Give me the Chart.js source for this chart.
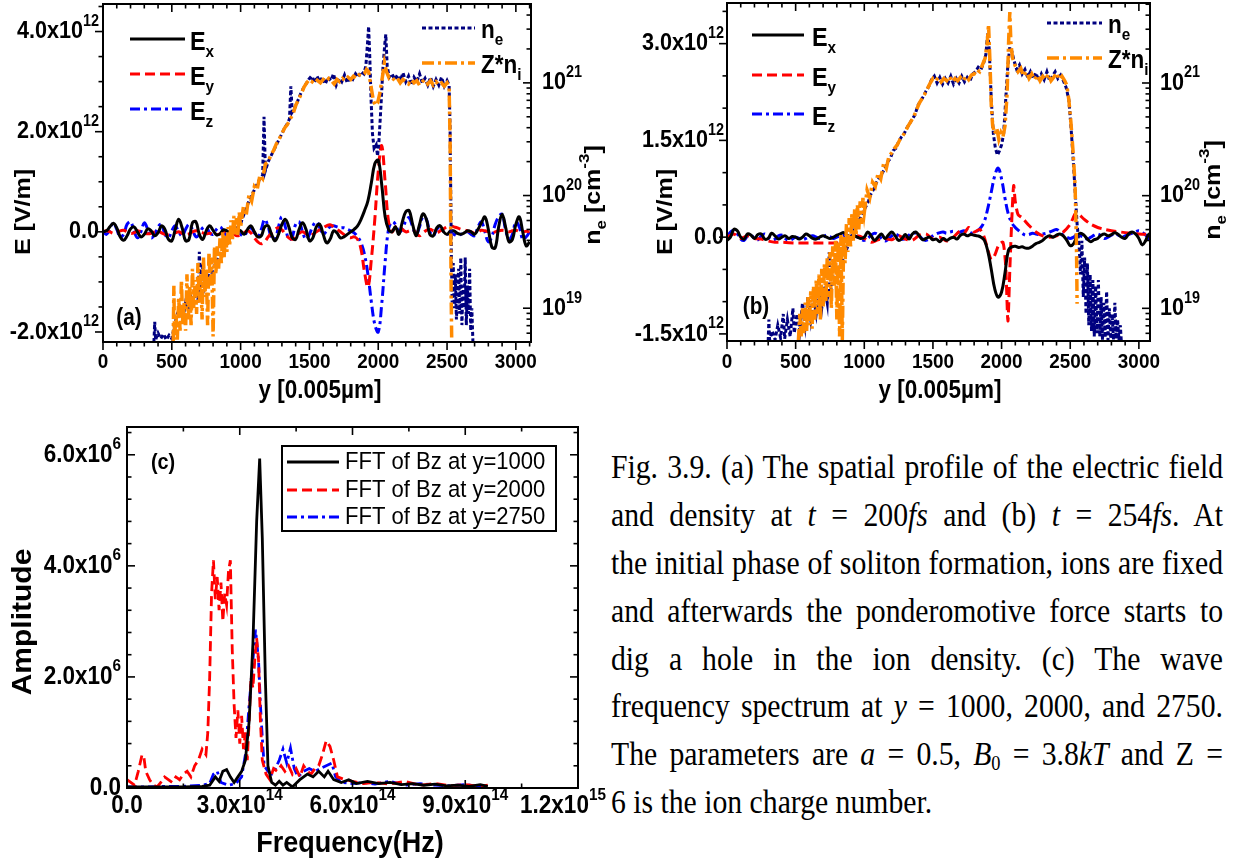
<!DOCTYPE html>
<html>
<head>
<meta charset="utf-8">
<script src="https://cdn.jsdelivr.net/npm/chart.js@4.4.1/dist/chart.umd.min.js"></script>
<style>
  body { margin: 0; background: #fff; width: 1233px; height: 866px; position: relative; overflow: hidden; }
  canvas { position: absolute; }
  #caption { position: absolute; left: 611px; top: 444px; width: 680px; color: #000;
             transform: scaleX(0.9); transform-origin: 0 0;
             font-family: "Liberation Serif", "Times New Roman", serif; font-size: 33px; }
  #caption .ln { height: 47.9px; line-height: 47.9px; white-space: nowrap;
                 text-align: justify; text-align-last: justify; }
  #caption .ln.end { text-align-last: left; }
  #caption sub { font-size: 0.62em; line-height: 0; vertical-align: -0.22em; }
</style>
</head>
<body>
<canvas id="chartA" width="620" height="410" style="left:0;top:0"></canvas>
<canvas id="chartB" width="613" height="410" style="left:620px;top:0"></canvas>
<canvas id="chartC" width="610" height="446" style="left:0;top:420px"></canvas>
<div id="caption">
  <div class="ln">Fig. 3.9. (a) The spatial profile of the electric field</div>
  <div class="ln">and density at <i>t</i> = 200<i>fs</i> and (b) <i>t</i> = 254<i>fs</i>. At</div>
  <div class="ln">the initial phase of soliton formation, ions are fixed</div>
  <div class="ln">and afterwards the ponderomotive force starts to</div>
  <div class="ln">dig a hole in the ion density. (c) The wave</div>
  <div class="ln">frequency spectrum at <i>y</i> = 1000, 2000, and 2750.</div>
  <div class="ln">The parameters are <i>a</i> = 0.5, <i>B</i><sub>0</sub> = 3.8<i>kT</i> and Z =</div>
  <div class="ln end">6 is the ion charge number.</div>
</div>
<script>
// sample positions along y [0.005 um] for the field curves
const yGrid = [
  0,25,50,75,100,125,150,175,
  200,225,250,275,300,325,350,375,
  400,425,450,475,500,525,550,575,
  600,625,650,675,700,725,750,775,
  800,825,850,875,900,925,950,975,
  1000,1025,1050,1075,1100,1125,1150,1175,
  1200,1225,1250,1275,1300,1325,1350,1375,
  1400,1425,1450,1475,1500,1525,1550,1575,
  1600,1625,1650,1675,1700,1725,1750,1775,
  1800,1825,1850,1875,1900,1925,1950,1975,
  2000,2025,2050,2075,2100,2125,2150,2175,
  2200,2225,2250,2275,2300,2325,2350,2375,
  2400,2425,2450,2475,2500,2525,2550,2575,
  2600,2625,2650,2675,2700,2725,2750,2775,
  2800,2825,2850,2875,2900,2925,2950,2975,
  3000,3025,3050,3075,3100
];

// (a) t = 200 fs, fields in units of 1e12 V/m
const exA = [
  0.00,0.02,0.10,0.17,0.08,-0.10,-0.17,-0.08,
  0.06,0.10,0.00,-0.10,-0.05,0.06,0.02,-0.08,
  -0.02,0.12,0.05,-0.15,-0.18,0.05,0.25,0.08,
  -0.18,-0.15,0.18,0.20,-0.05,-0.15,0.02,0.12,
  0.03,-0.06,-0.04,0.04,0.02,-0.02,0.00,0.05,
  0.02,-0.05,0.05,0.12,0.00,-0.10,-0.08,0.10,
  0.12,-0.05,-0.18,-0.05,0.15,0.25,0.10,-0.12,
  -0.15,0.05,0.18,0.05,-0.18,-0.12,0.10,0.15,
  -0.05,-0.22,-0.15,0.02,-0.02,-0.12,-0.10,-0.05,
  0.00,0.05,0.12,0.25,0.42,0.62,0.98,1.36,
  1.43,0.95,0.30,0.05,0.00,0.10,-0.05,0.20,
  0.40,0.42,0.15,-0.08,0.15,0.36,0.25,-0.05,
  -0.08,0.08,0.12,0.00,-0.05,0.02,0.02,-0.03,
  -0.05,-0.02,0.02,0.00,-0.05,0.05,0.18,0.30,
  0.05,-0.30,-0.32,0.10,0.35,0.10,-0.20,-0.15,
  0.15,0.30,0.00,-0.28,-0.20
];
const eyA = [
  0.00,0.02,0.00,-0.03,-0.02,0.02,0.03,0.00,
  -0.03,-0.02,0.02,0.00,-0.02,-0.04,-0.03,0.00,
  0.02,-0.02,-0.05,-0.06,-0.04,-0.02,0.00,-0.03,
  -0.05,-0.04,0.00,0.02,0.00,-0.02,-0.04,-0.03,
  -0.05,-0.06,-0.04,0.00,0.02,0.00,-0.04,-0.08,
  -0.06,-0.02,0.02,-0.02,-0.12,-0.20,-0.24,-0.20,
  -0.10,-0.02,0.05,0.08,0.04,-0.05,-0.12,-0.15,
  -0.10,-0.03,0.00,-0.04,-0.08,-0.05,0.00,0.04,
  0.08,0.12,0.14,0.10,0.05,0.00,-0.05,-0.10,
  -0.12,-0.10,-0.15,-0.35,-0.80,-1.10,-0.55,0.25,
  1.20,1.72,1.00,0.20,0.00,0.10,0.12,0.05,
  0.00,0.02,0.05,-0.03,-0.08,-0.02,0.03,0.05,
  0.02,-0.02,0.02,0.06,0.10,0.12,0.10,0.08,
  0.05,0.04,0.02,0.00,-0.03,0.00,0.03,0.02,
  0.00,-0.02,0.00,0.02,0.03,0.02,0.00,0.02,
  0.03,0.01,0.00,0.01,0.00
];
const ezA = [
  0.00,-0.05,0.05,0.18,0.05,-0.10,-0.05,0.15,
  0.20,0.02,-0.12,0.00,0.18,0.05,-0.12,-0.05,
  0.10,0.15,-0.05,-0.12,0.02,0.12,0.00,-0.08,
  0.05,0.15,0.05,-0.10,-0.05,0.08,0.10,-0.02,
  -0.05,0.05,0.10,0.02,-0.08,-0.02,0.05,0.02,
  -0.05,-0.08,0.02,0.08,-0.02,-0.10,0.05,0.25,
  0.10,-0.12,-0.15,0.10,0.30,0.10,-0.15,-0.10,
  0.15,0.20,0.00,-0.15,-0.05,0.12,0.20,0.08,
  -0.05,0.02,0.10,0.12,0.10,0.08,0.08,0.05,
  0.02,-0.02,-0.10,-0.22,-0.45,-0.85,-1.40,-1.85,
  -2.00,-1.45,-0.60,0.05,0.20,0.15,0.00,0.05,
  0.22,0.28,0.10,-0.05,0.10,0.30,0.25,0.00,
  -0.08,0.05,0.10,0.00,-0.05,-0.02,-0.05,-0.08,
  -0.05,-0.02,0.00,-0.05,-0.08,0.10,0.20,0.00,
  -0.20,-0.10,0.15,0.30,0.35,0.05,-0.15,-0.05,
  0.20,0.10,-0.15,-0.10,0.00
];
// (a) densities, log10 of n [cm^-3]
const neXA = [
  370,376,382,400,420,440,460,480,500,520,
  540,560,580,600,620,640,660,680,690,700,
  710,720,740,760,780,800,820,840,860,880,
  900,920,940,960,980,1000,1020,1040,1060,1080,
  1100,1120,1140,1160,1170,1180,1200,1220,1240,1260,
  1280,1300,1320,1340,1355,1365,1375,1395,1415,1435,
  1455,1475,1495,1515,1535,1555,1575,1595,1615,1635,
  1655,1675,1695,1715,1735,1755,1775,1795,1815,1835,
  1855,1875,1895,1910,1922,1930,1938,1948,1958,1970,
  1985,1995,2005,2020,2035,2048,2055,2065,2080,2100,
  2120,2140,2160,2180,2200,2220,2240,2260,2280,2300,
  2320,2340,2360,2380,2400,2420,2440,2460,2480,2500,
  2515,2522,2527,2532,2537,2545,2552,2560,2568,2576,
  2584,2592,2600,2608,2616,2624,2632,2640,2648,2656,
  2664,2672,2680,2688
];
const neLogA = [
  18.70,18.88,18.72,18.78,18.73,18.77,18.72,18.76,18.73,18.85,
  18.95,19.00,18.90,19.05,19.00,19.10,19.05,19.20,19.05,19.50,
  19.15,19.40,19.20,19.30,19.28,19.35,19.40,19.45,19.50,19.55,
  19.58,19.62,19.65,19.70,19.72,19.75,19.82,19.88,19.95,20.00,
  20.05,20.10,20.15,20.18,20.70,20.22,20.30,20.35,20.40,20.45,
  20.50,20.55,20.60,20.64,20.68,20.97,20.74,20.78,20.84,20.90,
  20.95,20.99,21.03,21.06,21.00,21.06,21.01,21.05,20.99,21.05,
  21.02,21.08,20.98,21.04,21.01,21.07,21.00,21.05,21.03,21.08,
  21.05,21.10,21.08,21.15,21.35,21.50,21.25,20.85,20.55,20.42,
  20.45,20.35,20.48,20.80,21.15,21.35,21.43,21.15,21.05,21.08,
  21.03,21.07,21.02,21.09,21.01,21.06,20.98,21.05,21.01,21.08,
  21.00,21.04,20.98,21.05,20.97,21.03,20.98,21.05,20.97,21.02,
  20.98,20.60,20.00,19.40,19.05,19.40,19.00,19.30,18.90,19.15,
  19.35,18.95,19.45,18.85,19.20,19.00,19.45,18.85,19.20,18.95,
  19.35,18.80,19.00,18.70
];
const niXA = [
  510,515,520,530,540,550,560,570,580,590,
  600,610,620,630,640,650,660,670,680,690,
  700,710,720,730,740,750,760,770,780,790,
  800,810,820,830,840,850,860,870,880,890,
  900,910,920,930,940,950,960,970,980,990,
  1000,1020,1040,1060,1080,1100,1120,1140,1160,1180,
  1200,1220,1240,1260,1280,1300,1320,1340,1360,1380,
  1400,1420,1440,1460,1480,1500,1520,1540,1560,1580,
  1600,1620,1640,1660,1680,1700,1720,1740,1760,1780,
  1800,1820,1840,1860,1880,1900,1915,1930,1950,1965,
  1980,1995,2010,2030,2045,2060,2080,2100,2120,2140,
  2160,2180,2200,2220,2240,2260,2280,2300,2320,2340,
  2360,2380,2400,2420,2440,2460,2480,2500,2515,2522,
  2526,2530,2534
];
const niLogA = [
  18.70,19.20,18.72,18.95,18.72,19.10,18.80,19.25,18.85,19.05,
  18.80,19.30,18.90,19.20,18.85,19.35,19.00,19.25,18.95,19.40,
  19.05,19.30,18.90,19.45,19.10,19.35,18.85,19.50,19.20,19.45,
  18.75,19.55,19.30,19.55,19.35,19.62,19.40,19.68,19.45,19.65,
  19.50,19.72,19.55,19.78,19.60,19.82,19.65,19.80,19.65,19.85,
  19.72,19.90,19.82,20.00,19.95,20.08,20.05,20.18,20.15,20.28,
  20.30,20.36,20.40,20.46,20.50,20.55,20.60,20.63,20.68,20.72,
  20.80,20.85,20.90,20.96,21.00,21.03,21.01,21.04,21.02,21.00,
  21.03,21.01,21.04,21.02,20.99,21.03,21.01,21.04,21.02,21.05,
  21.03,21.06,21.04,21.07,21.06,21.08,21.12,21.10,20.95,20.84,
  20.80,20.82,20.90,21.05,21.18,21.10,21.04,21.05,21.02,21.04,
  21.00,21.03,21.01,20.99,21.03,21.00,21.02,20.98,21.01,21.03,
  20.99,21.02,20.98,21.01,20.98,21.00,20.97,21.00,20.96,20.50,
  19.80,19.10,18.70
];

// (b) t = 254 fs
const exB = [
  -0.05,0.00,0.12,0.10,0.00,-0.03,0.05,0.03,
  -0.02,0.04,0.05,-0.03,-0.02,0.06,0.02,-0.03,
  0.00,0.02,-0.02,0.01,0.00,-0.03,0.00,0.05,
  0.02,-0.02,-0.03,0.00,0.02,0.00,-0.02,0.00,
  0.03,0.05,0.07,0.03,0.01,0.02,0.00,-0.02,
  0.00,0.08,0.02,-0.05,0.00,0.05,-0.02,0.03,
  0.08,0.02,-0.05,-0.02,0.04,-0.03,0.05,0.08,
  0.02,-0.04,-0.02,0.00,-0.04,-0.03,-0.07,-0.02,
  -0.05,-0.02,0.00,-0.03,0.03,0.05,0.02,0.04,
  0.03,0.02,0.00,-0.05,-0.22,-0.50,-0.80,-0.93,
  -0.85,-0.55,-0.20,-0.15,-0.14,-0.16,-0.15,-0.17,
  -0.17,-0.14,-0.10,-0.08,-0.05,0.00,0.02,0.00,
  0.03,0.05,0.02,-0.05,-0.13,-0.10,0.02,0.06,
  0.03,-0.03,-0.07,-0.04,-0.02,0.03,0.05,0.02,
  0.04,0.07,0.04,0.00,-0.02,0.05,0.08,0.05,
  -0.02,-0.12,-0.05,0.05,-0.02
];
const eyXB = [
  0,50,100,150,200,250,300,350,400,500,
  600,700,800,850,900,950,1000,1050,1100,1150,
  1200,1250,1300,1350,1400,1450,1500,1550,1600,1650,
  1700,1725,1760,1800,1840,1870,1900,1925,1950,1980,
  2010,2030,2046,2060,2075,2088,2100,2120,2150,2200,
  2250,2300,2350,2400,2450,2500,2540,2560,2600,2650,
  2700,2750,2800,2900,3000,3110
];
const eyB = [
  0.00,0.05,-0.02,0.02,-0.02,-0.03,-0.06,-0.08,-0.08,-0.09,
  -0.09,-0.09,-0.09,-0.07,-0.02,0.02,-0.02,-0.08,-0.04,-0.02,
  -0.04,0.02,-0.03,-0.05,0.03,0.05,-0.03,0.00,-0.06,0.00,
  0.10,0.05,0.15,0.08,0.12,0.02,-0.20,-0.35,-0.28,-0.12,
  -0.08,-0.45,-1.30,-0.50,0.30,0.80,0.55,0.35,0.30,0.18,
  0.08,0.02,0.00,0.02,0.08,0.20,0.38,0.36,0.28,0.20,
  0.15,0.12,0.10,0.07,0.05,0.04
];
const ezB = [
  0.00,0.08,0.10,0.05,-0.03,-0.05,0.02,0.03,
  -0.02,-0.04,0.02,0.05,0.00,-0.04,-0.03,0.02,
  0.03,-0.02,-0.05,-0.03,0.00,-0.02,-0.04,-0.02,
  0.01,0.02,0.00,-0.02,0.00,0.03,0.01,-0.02,
  0.00,0.02,0.03,0.01,0.00,0.02,0.00,-0.03,
  -0.05,-0.02,0.03,0.06,0.04,-0.02,-0.06,-0.03,
  0.02,0.05,0.02,-0.03,-0.02,0.03,0.07,0.06,
  0.02,-0.03,-0.05,-0.02,0.02,0.05,0.07,0.08,
  0.06,0.08,0.09,0.07,0.08,0.10,0.08,0.06,
  0.08,0.10,0.15,0.25,0.45,0.70,0.95,1.07,
  0.90,0.60,0.35,0.22,0.15,0.10,0.06,0.03,
  0.04,0.06,0.05,0.04,0.05,0.06,0.08,0.10,
  0.12,0.08,0.03,0.00,-0.02,0.00,0.04,0.02,
  0.00,-0.03,0.00,0.03,0.05,0.02,-0.02,0.00,
  0.03,0.05,0.03,0.00,0.02,0.04,0.06,0.08,
  0.10,0.07,0.03,-0.03,-0.05
];
const neXB = [
  300,305,310,330,350,370,390,410,420,440,
  460,480,490,510,530,550,570,590,610,630,
  650,670,690,710,730,745,750,770,790,810,
  830,850,870,890,910,930,950,970,990,1010,
  1030,1050,1070,1090,1110,1130,1150,1170,1190,1210,
  1230,1250,1270,1290,1310,1330,1350,1370,1390,1410,
  1430,1450,1470,1490,1510,1530,1550,1570,1590,1610,
  1630,1650,1670,1690,1710,1730,1750,1770,1790,1810,
  1830,1850,1870,1885,1900,1910,1925,1940,1955,1970,
  1985,2000,2015,2030,2045,2060,2075,2090,2110,2130,
  2150,2170,2190,2210,2230,2250,2270,2290,2310,2330,
  2350,2370,2390,2410,2430,2450,2470,2490,2505,2520,
  2535,2550,2565,2575,2585,2595,2605,2615,2625,2635,
  2645,2655,2665,2675,2685,2695,2705,2715,2725,2735,
  2745,2755,2765,2775,2785,2795,2805,2815,2825,2835,
  2845,2855,2865,2872
];
const neLogB = [
  18.71,18.90,18.72,18.80,18.72,18.85,18.74,18.95,18.73,18.90,
  18.75,19.00,18.78,18.95,18.80,19.05,18.85,19.10,18.90,19.10,
  18.95,19.15,19.00,19.20,19.05,19.50,19.10,19.25,19.30,19.32,
  19.40,19.45,19.52,19.58,19.65,19.70,19.75,19.80,19.85,19.90,
  19.95,20.02,20.06,20.12,20.16,20.20,20.24,20.30,20.33,20.40,
  20.42,20.48,20.52,20.55,20.60,20.64,20.68,20.72,20.80,20.84,
  20.88,20.93,20.97,21.03,21.06,21.00,21.05,20.99,21.04,21.00,
  21.06,20.99,21.04,21.00,21.06,21.01,21.05,21.02,21.08,21.10,
  21.14,21.12,21.18,21.25,21.45,21.30,20.85,20.55,20.42,20.36,
  20.40,20.45,20.55,20.85,21.15,21.32,21.28,21.20,21.12,21.16,
  21.08,21.12,21.05,21.10,21.04,21.09,21.02,21.08,21.03,21.10,
  21.02,21.06,21.10,21.04,21.07,21.02,20.96,20.85,20.62,20.35,
  20.05,19.75,19.55,19.30,19.60,19.10,19.45,18.95,19.40,18.85,
  19.30,18.80,19.25,18.75,19.20,18.78,19.25,18.75,19.10,18.72,
  19.05,18.74,19.15,18.72,19.00,18.73,18.95,18.72,19.05,18.73,
  18.90,18.72,18.85,18.71
];
const niXB = [
  520,530,540,550,560,570,580,590,600,610,
  620,630,640,650,660,670,680,690,700,710,
  720,730,740,750,760,770,780,790,800,810,
  820,830,840,850,860,870,880,890,900,910,
  920,930,940,950,960,970,980,990,1000,1020,
  1040,1060,1080,1100,1120,1140,1160,1180,1200,1220,
  1240,1260,1280,1300,1320,1340,1360,1380,1400,1420,
  1440,1460,1480,1500,1520,1540,1560,1580,1600,1620,
  1640,1660,1680,1700,1720,1740,1760,1780,1800,1820,
  1840,1860,1880,1895,1905,1915,1925,1935,1950,1965,
  1980,1995,2010,2025,2040,2052,2060,2068,2080,2100,
  2120,2140,2160,2180,2200,2220,2240,2260,2280,2300,
  2320,2340,2360,2380,2400,2420,2440,2460,2475,2490,
  2505,2520,2535,2545,2550
];
const niLogB = [
  18.71,18.95,18.75,19.00,18.78,19.05,18.80,19.10,18.85,19.15,
  18.82,19.20,18.90,19.25,18.95,19.30,18.90,19.35,19.00,19.40,
  19.05,19.45,19.10,19.50,19.00,19.55,19.20,19.60,18.90,19.60,
  18.75,19.65,18.72,19.65,19.40,19.75,19.50,19.80,19.55,19.85,
  19.60,19.88,19.65,19.92,19.70,19.95,19.75,19.98,19.85,20.05,
  19.98,20.12,20.08,20.20,20.15,20.28,20.24,20.35,20.38,20.42,
  20.45,20.50,20.53,20.57,20.62,20.66,20.70,20.76,20.82,20.86,
  20.90,20.95,21.00,21.04,21.02,21.05,21.01,21.04,21.02,21.06,
  21.01,21.04,21.02,21.05,21.02,21.06,21.03,21.07,21.08,21.12,
  21.10,21.16,21.22,21.35,21.52,21.20,20.80,20.62,20.55,20.60,
  20.50,20.56,20.52,20.62,20.90,21.40,21.63,21.35,21.22,21.15,
  21.10,21.13,21.06,21.10,21.04,21.08,21.03,21.07,21.02,21.06,
  21.03,21.08,21.02,21.05,21.09,21.03,21.06,21.02,20.98,20.85,
  20.65,20.40,20.10,19.60,19.04
];

// (c) spectra: frequency in 1e14 Hz, amplitude in 1e6
const fft1000F = [
  0,0.5,1.0,1.5,2.0,2.2,2.35,2.45,2.55,2.65,
  2.75,2.85,2.95,3.05,3.15,3.25,3.35,3.45,3.53,3.6,
  3.68,3.75,3.85,3.95,4.05,4.15,4.25,4.4,4.6,4.8,
  4.95,5.1,5.25,5.35,5.5,5.7,5.9,6.1,6.4,6.7,
  7.0,7.3,7.6,7.9,8.2,8.5,8.8,9.1,9.4,9.6
];
const fft1000A = [
  0.02,0.02,0.02,0.02,0.03,0.05,0.20,0.12,0.30,0.33,
  0.20,0.10,0.20,0.30,0.50,1.20,2.60,4.80,5.93,4.50,
  2.00,0.40,0.10,0.05,0.12,0.05,0.10,0.02,0.15,0.25,
  0.20,0.30,0.20,0.30,0.15,0.10,0.15,0.08,0.12,0.08,
  0.10,0.06,0.08,0.05,0.07,0.04,0.05,0.03,0.06,0.03
];
const fft2000F = [
  0,0.1,0.2,0.3,0.4,0.45,0.5,0.6,0.7,0.8,
  0.9,1.0,1.1,1.2,1.3,1.4,1.5,1.6,1.7,1.8,
  1.9,2.0,2.1,2.15,2.2,2.25,2.3,2.35,2.4,2.45,
  2.5,2.55,2.6,2.65,2.7,2.75,2.8,2.85,2.9,2.95,
  3.0,3.05,3.1,3.15,3.2,3.25,3.3,3.35,3.4,3.45,
  3.5,3.55,3.6,3.7,3.8,3.9,4.0,4.1,4.2,4.3,
  4.4,4.5,4.6,4.7,4.8,4.9,5.0,5.1,5.2,5.3,
  5.4,5.5,5.6,5.8,6.0,6.3,6.6,7.0,7.4,7.8,
  8.2,8.6,9.0,9.4,9.6
];
const fft2000A = [
  0.15,0.10,0.05,0.30,0.60,0.55,0.30,0.15,0.05,0.02,
  0.10,0.20,0.15,0.10,0.20,0.15,0.25,0.30,0.20,0.40,
  0.50,0.70,0.60,1.00,2.00,3.50,4.10,3.40,3.80,3.20,
  3.70,3.00,3.50,3.30,3.90,4.10,2.50,1.50,0.90,1.40,
  0.80,1.30,0.70,1.00,0.50,1.20,2.00,1.80,2.30,2.70,
  2.30,1.20,0.50,0.25,0.15,0.35,0.30,0.40,0.30,0.40,
  0.25,0.35,0.20,0.40,0.30,0.25,0.35,0.40,0.60,0.85,
  0.75,0.50,0.20,0.15,0.12,0.08,0.10,0.07,0.12,0.05,
  0.08,0.04,0.06,0.03,0.05
];
const fft2750F = [
  0,0.5,1.0,1.5,2.0,2.2,2.3,2.4,2.5,2.7,
  2.9,3.05,3.15,3.25,3.35,3.42,3.5,3.55,3.6,3.65,
  3.75,3.85,3.95,4.05,4.15,4.25,4.35,4.45,4.55,4.7,
  4.85,5.0,5.15,5.3,5.45,5.55,5.7,6.0,6.3,6.6,
  7.0,7.4,7.8,8.2,8.6,9.0,9.4,9.6
];
const fft2750A = [
  0.02,0.02,0.03,0.03,0.05,0.08,0.25,0.30,0.10,0.05,
  0.08,0.20,0.60,1.50,2.30,2.85,2.30,1.50,0.90,0.40,
  0.30,0.25,0.35,0.50,0.70,0.45,0.72,0.35,0.20,0.30,
  0.35,0.30,0.35,0.40,0.45,0.20,0.10,0.08,0.10,0.07,
  0.12,0.05,0.08,0.05,0.04,0.06,0.03,0.04
];

const BLACK = '#000000', RED = '#ff0000', BLUE = '#0000ff', NAVY = '#000080', ORANGE = '#ff8a00';
const FONT = '"Liberation Sans", Arial, sans-serif';
const HS = 0.9; // horizontal squeeze of the lettering

function pts(xs, ys) { return xs.map((x, i) => ({ x: x, y: ys[i] })); }

function series(label, xs, ys, color, dash, width, axis, tension) {
  return {
    label: label, data: pts(xs, ys), yAxisID: axis, showLine: true,
    borderColor: color, backgroundColor: color, borderWidth: width, borderDash: dash,
    pointRadius: 0, tension: tension, fill: false
  };
}

function steps(from, to, step, skip) {
  const out = [];
  for (let v = from; v <= to + 1e-9; v += step) {
    const r = Math.round(v * 1000) / 1000;
    if (!skip || Math.abs(r / skip - Math.round(r / skip)) > 1e-6) out.push(r);
  }
  return out;
}

function logMinor(lo, hi) {
  const out = [];
  for (let d = Math.floor(lo); d <= hi; d++)
    for (let k = 2; k <= 9; k++) {
      const v = d + Math.log10(k);
      if (v > lo && v < hi) out.push(v);
    }
  return out;
}

// text with sub/superscript pieces: [text, 0 | 1 (sup) | -1 (sub)]
function rich(ctx, parts, x, y, align, size, weight, hs) {
  const w = weight || 'bold';
  const sq = hs === undefined ? HS : hs;
  const segs = parts.map(p => {
    const fs = p[1] ? Math.round(size * 0.66) : size;
    ctx.font = w + ' ' + fs + 'px ' + FONT;
    return { t: p[0], s: p[1], fs: fs, w: ctx.measureText(p[0]).width };
  });
  const total = segs.reduce((s, g) => s + g.w, 0) * sq;
  const start = align === 'right' ? x - total : align === 'center' ? x - total / 2 : x;
  ctx.save();
  ctx.translate(start, y);
  ctx.scale(sq, 1);
  ctx.textAlign = 'left';
  ctx.textBaseline = 'middle';
  let cx = 0;
  segs.forEach(g => {
    ctx.font = w + ' ' + g.fs + 'px ' + FONT;
    const dy = g.s > 0 ? -size * 0.42 : g.s < 0 ? size * 0.36 : 0;
    ctx.fillText(g.t, cx, dy);
    cx += g.w;
  });
  ctx.restore();
}

// frame, ticks, labels, titles and legend drawn on top of the plotted curves
const framePlugin = {
  id: 'frame',
  afterDraw(chart, args, f) {
    const ctx = chart.ctx, a = chart.chartArea;
    const sx = chart.scales.x, sy = chart.scales.y, sr = chart.scales.y2;
    const seg = (x1, y1, x2, y2) => { ctx.beginPath(); ctx.moveTo(x1, y1); ctx.lineTo(x2, y2); ctx.stroke(); };
    ctx.save();
    ctx.strokeStyle = BLACK;
    ctx.fillStyle = BLACK;
    ctx.setLineDash([]);
    ctx.lineWidth = 1.6;
    const out = f.tickOut ? 1 : -1;
    const xt = f.xMajor.map(v => [v, 8]).concat(f.xMinor.map(v => [v, 4.5]));
    xt.forEach(([v, len]) => {
      const px = sx.getPixelForValue(v);
      seg(px, a.bottom, px, a.bottom + out * len);
      seg(px, a.top, px, a.top + len);
    });
    const yt = f.yMajor.map(v => [v, 8]).concat(f.yMinor.map(v => [v, 4.5]));
    yt.forEach(([v, len]) => {
      const py = sy.getPixelForValue(v);
      seg(a.left, py, a.left - out * len, py);
      if (!sr) seg(a.right, py, a.right - len, py);
    });
    if (sr) {
      const rt = f.rMajor.map(v => [v, 8]).concat(f.rMinor.map(v => [v, 4.5]));
      rt.forEach(([v, len]) => {
        const py = sr.getPixelForValue(v);
        seg(a.right, py, a.right - len, py);
      });
    }
    ctx.lineWidth = 2;
    ctx.strokeRect(a.left, a.top, a.right - a.left, a.bottom - a.top);

    f.xLabels.forEach(l => rich(ctx, l[2] ? [[l[1], 0], [l[2], 1]] : [[l[1], 0]],
      sx.getPixelForValue(l[0]) + (l[3] || 0), f.xLabelY, 'center', f.xSize));
    f.yLabels.forEach(l => rich(ctx, l[2] ? [[l[1], 0], [l[2], 1]] : [[l[1], 0]],
      f.yLabelX, sy.getPixelForValue(l[0]), 'right', f.ySize));
    if (sr) f.rLabels.forEach(l => rich(ctx, [[l[1], 0], [l[2], 1]],
      f.rLabelX, sr.getPixelForValue(l[0]), 'left', f.rSize));

    f.titles.forEach(t => {
      ctx.save();
      ctx.translate(t.x, t.y);
      if (t.rot) {
        ctx.scale(HS, 1);
        ctx.rotate(-Math.PI / 2);
        rich(ctx, t.parts, 0, 0, 'center', t.size, 'bold', 1);
      } else {
        rich(ctx, t.parts, 0, 0, 'center', t.size);
      }
      ctx.restore();
    });

    if (f.box) {
      ctx.fillStyle = '#fff';
      ctx.fillRect(f.box[0], f.box[1], f.box[2], f.box[3]);
      ctx.lineWidth = 2;
      ctx.strokeRect(f.box[0], f.box[1], f.box[2], f.box[3]);
      ctx.fillStyle = BLACK;
    }
    f.legend.forEach(e => {
      const ds = chart.data.datasets[e.i];
      ctx.strokeStyle = ds.borderColor;
      ctx.lineWidth = ds.borderWidth;
      ctx.setLineDash(ds.borderDash || []);
      seg(e.x1, e.y, e.x2, e.y);
      ctx.setLineDash([]);
      rich(ctx, e.parts, e.tx, e.y + (e.dy || 0), 'left', e.size, e.weight);
    });
    rich(ctx, [[f.tag[0], 0]], f.tag[1], f.tag[2], 'center', f.tag[3]);
    ctx.restore();
  }
};

function makeChart(id, datasets, sc, pad, frame) {
  const scales = {
    x: { type: 'linear', min: sc.x[0], max: sc.x[1], display: false },
    y: { type: 'linear', position: 'left', min: sc.y[0], max: sc.y[1], display: false }
  };
  if (sc.r) scales.y2 = { type: 'linear', position: 'right', min: sc.r[0], max: sc.r[1], display: false };
  return new Chart(document.getElementById(id), {
    type: 'scatter',
    data: { datasets: datasets },
    options: {
      responsive: false, animation: false, events: [],
      layout: { padding: pad },
      scales: scales,
      plugins: { legend: { display: false }, tooltip: { enabled: false }, frame: frame }
    },
    plugins: [framePlugin]
  });
}

const yTickLabels = [[0, '0'], [500, '500'], [1000, '1000'], [1500, '1500'], [2000, '2000'], [2500, '2500'], [3000, '3000']];
const logLabels = [[19, '10', '19'], [20, '10', '20'], [21, '10', '21']];

// (a)
makeChart('chartA', [
  series('Z*n_i', niXA, niLogA, ORANGE, [12, 4, 3, 4], 3.5, 'y2', 0),
  series('n_e', neXA, neLogA, NAVY, [4, 2.5], 3, 'y2', 0),
  series('E_x', yGrid, exA, BLACK, [], 3, 'y', 0.4),
  series('E_y', yGrid, eyA, RED, [10, 5], 3, 'y', 0.4),
  series('E_z', yGrid, ezA, BLUE, [10, 4, 3, 4], 3, 'y', 0.4)
], { x: [0, 3110], y: [-2.2, 4.55], r: [18.70, 21.70] },
  { left: 103, right: 89, top: 4, bottom: 68 },
  {
    tickOut: true,
    xMajor: steps(0, 3000, 500), xMinor: steps(100, 3100, 100, 500),
    yMajor: [-2, 0, 2, 4], yMinor: steps(-2, 4.5, 0.5, 2),
    rMajor: [19, 20, 21], rMinor: logMinor(18.70, 21.70),
    xLabels: yTickLabels, xLabelY: 362, xSize: 21,
    yLabels: [[-2, '-2.0x10', '12'], [0, '0.0'], [2, '2.0x10', '12'], [4, '4.0x10', '12']], yLabelX: 99, ySize: 24,
    rLabels: logLabels, rLabelX: 542, rSize: 24,
    titles: [
      { parts: [['E [V/m]', 0]], x: 24, y: 212, rot: true, size: 25 },
      { parts: [['n', 0], ['e', -1], [' [cm', 0], ['-3', 1], [']', 0]], x: 594, y: 195, rot: true, size: 25 },
      { parts: [['y [0.005µm]', 0]], x: 320, y: 391, size: 25 }
    ],
    legend: [
      { i: 2, x1: 130, x2: 185, y: 39, tx: 190, dy: 4, size: 26, parts: [['E', 0], ['x', -1]] },
      { i: 3, x1: 130, x2: 185, y: 74, tx: 190, dy: 4, size: 26, parts: [['E', 0], ['y', -1]] },
      { i: 4, x1: 130, x2: 185, y: 109, tx: 190, dy: 4, size: 26, parts: [['E', 0], ['z', -1]] },
      { i: 1, x1: 422, x2: 475, y: 28, tx: 481, dy: 3, size: 25, parts: [['n', 0], ['e', -1]] },
      { i: 0, x1: 422, x2: 475, y: 63, tx: 481, dy: 3, size: 25, parts: [['Z*n', 0], ['i', -1]] }
    ],
    tag: ['(a)', 129, 319, 23]
  });

// (b)
makeChart('chartB', [
  series('Z*n_i', niXB, niLogB, ORANGE, [12, 4, 3, 4], 3.5, 'y2', 0),
  series('n_e', neXB, neLogB, NAVY, [4, 2.5], 3, 'y2', 0),
  series('E_x', yGrid, exB, BLACK, [], 3, 'y', 0.4),
  series('E_y', eyXB, eyB, RED, [10, 5], 3, 'y', 0.25),
  series('E_z', yGrid, ezB, BLUE, [10, 4, 3, 4], 3, 'y', 0.4)
], { x: [0, 3081], y: [-1.61, 3.63], r: [18.71, 21.71] },
  { left: 107, right: 83, top: 3, bottom: 69 },
  {
    tickOut: true,
    xMajor: steps(0, 3000, 500), xMinor: steps(100, 3000, 100, 500),
    yMajor: [-1.5, 0, 1.5, 3], yMinor: steps(-1.5, 3.5, 0.5, 1.5),
    rMajor: [19, 20, 21], rMinor: logMinor(18.71, 21.71),
    xLabels: yTickLabels, xLabelY: 362, xSize: 21,
    yLabels: [[-1.5, '-1.5x10', '12'], [0, '0.0'], [1.5, '1.5x10', '12'], [3, '3.0x10', '12']], yLabelX: 104, ySize: 24,
    rLabels: logLabels, rLabelX: 540, rSize: 24,
    titles: [
      { parts: [['E [V/m]', 0]], x: 46, y: 212, rot: true, size: 25 },
      { parts: [['n', 0], ['e', -1], [' [cm', 0], ['-3', 1], [']', 0]], x: 594, y: 190, rot: true, size: 25 },
      { parts: [['y [0.005µm]', 0]], x: 320, y: 391, size: 25 }
    ],
    legend: [
      { i: 2, x1: 132, x2: 184, y: 35, tx: 192, dy: 4, size: 26, parts: [['E', 0], ['x', -1]] },
      { i: 3, x1: 132, x2: 184, y: 75, tx: 192, dy: 4, size: 26, parts: [['E', 0], ['y', -1]] },
      { i: 4, x1: 132, x2: 184, y: 114, tx: 192, dy: 4, size: 26, parts: [['E', 0], ['z', -1]] },
      { i: 1, x1: 427, x2: 482, y: 23, tx: 488, dy: 3, size: 25, parts: [['n', 0], ['e', -1]] },
      { i: 0, x1: 427, x2: 482, y: 58, tx: 488, dy: 3, size: 25, parts: [['Z*n', 0], ['i', -1]] }
    ],
    tag: ['(b)', 136, 308, 23]
  });

// (c)
makeChart('chartC', [
  series('FFT of Bz at y=1000', fft1000F, fft1000A, BLACK, [], 2.8, 'y', 0),
  series('FFT of Bz at y=2000', fft2000F, fft2000A, RED, [10, 5], 2.8, 'y', 0),
  series('FFT of Bz at y=2750', fft2750F, fft2750A, BLUE, [10, 4, 3, 4], 2.8, 'y', 0)
], { x: [0, 12], y: [0, 6.5] },
  { left: 127, right: 32, top: 7, bottom: 78 },
  {
    tickOut: false,
    xMajor: [0, 3, 6, 9, 12], xMinor: [1.5, 4.5, 7.5, 10.5],
    yMajor: [0, 2, 4, 6], yMinor: steps(0.4, 6.4, 0.4, 2),
    xLabels: [[0, '0.0'], [3, '3.0x10', '14'], [6, '6.0x10', '14'], [9, '9.0x10', '14'], [12, '1.2x10', '15', -15]],
    xLabelY: 386, xSize: 25,
    yLabels: [[0, '0.0'], [2, '2.0x10', '6'], [4, '4.0x10', '6'], [6, '6.0x10', '6']], yLabelX: 121, ySize: 25,
    titles: [
      { parts: [['Amplitude', 0]], x: 24, y: 202, rot: true, size: 30 },
      { parts: [['Frequency(Hz)', 0]], x: 350, y: 424, size: 30 }
    ],
    box: [282, 26, 274, 85],
    legend: [
      { i: 0, x1: 287, x2: 339, y: 42, tx: 345, size: 24.5, weight: 'normal', parts: [['FFT of Bz at y=1000', 0]] },
      { i: 1, x1: 287, x2: 339, y: 70, tx: 345, size: 24.5, weight: 'normal', parts: [['FFT of Bz at y=2000', 0]] },
      { i: 2, x1: 287, x2: 339, y: 97, tx: 345, size: 24.5, weight: 'normal', parts: [['FFT of Bz at y=2750', 0]] }
    ],
    tag: ['(c)', 163, 43, 22]
  });
</script>
</body>
</html>
